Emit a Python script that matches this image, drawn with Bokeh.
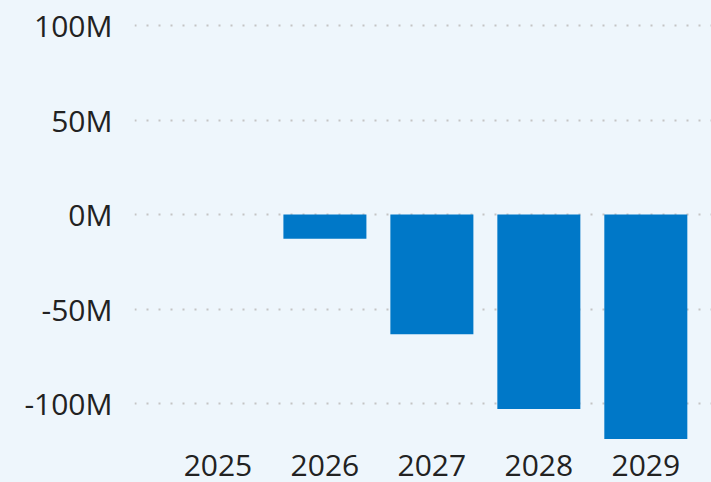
from bokeh.plotting import figure
from bokeh.models import ColumnDataSource, FixedTicker, PrintfTickFormatter, Range1d
from bokeh.embed import file_html
from bokeh.resources import INLINE

years = [2025, 2026, 2027, 2028, 2029]
values_m = [0, -12.8, -63.2, -102.8, -118.6]
y_ticks = [-100, -50, 0, 50, 100]

src = ColumnDataSource(dict(x=years, top=values_m))

bg = "#EEF6FC"
p = figure(width=711, height=482, output_backend="svg", toolbar_location=None,
           x_range=Range1d(2024.22, 2029.614), y_range=Range1d(-121, 113.2),
           min_border_left=134, min_border_top=0, min_border_right=0, min_border_bottom=39)

p.background_fill_color = bg
p.border_fill_color = bg
p.outline_line_color = None

p.vbar(x="x", top="top", bottom=0, width=0.776, source=src, color="#0078C8", line_color=None)

font = "Open Sans"
for ax in (p.xaxis[0], p.yaxis[0]):
    ax.axis_line_color = None
    ax.major_tick_line_color = None
    ax.minor_tick_line_color = None
    ax.major_tick_out = 0
    ax.major_tick_in = 0
    ax.minor_tick_out = 0
    ax.major_label_text_font = font
    ax.major_label_text_font_size = "30px"
    ax.major_label_text_color = "#222222"

p.xaxis.ticker = FixedTicker(ticks=years)
p.xaxis.major_label_overrides = {y: str(y) for y in years}
p.xaxis.major_label_standoff = 11
p.yaxis.ticker = FixedTicker(ticks=y_ticks)
p.yaxis.formatter = PrintfTickFormatter(format="%dM")
p.yaxis.major_label_standoff = 22

p.xgrid.grid_line_color = None
p.ygrid.grid_line_color = "#C4C4C4"
p.ygrid.grid_line_width = 2
p.ygrid.grid_line_dash = "2 10"

html = file_html(p, INLINE)
html = html.replace("<head>", "<head><style>html,body{margin:0;padding:0;overflow:hidden;background:%s}</style>" % bg, 1)
open("out.html", "w").write(html)
